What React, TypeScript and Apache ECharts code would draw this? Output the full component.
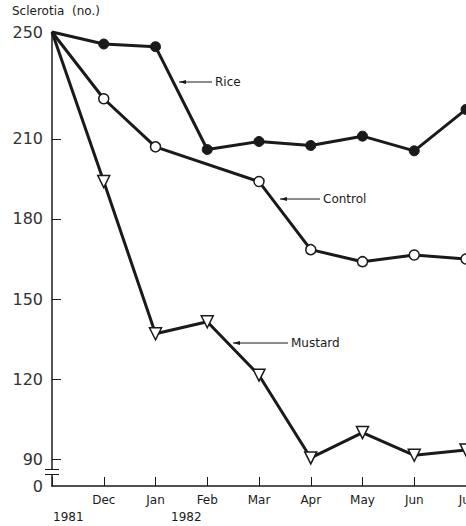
import React, { useEffect, useRef } from "react";
import * as echarts from "echarts";

const months = ["Nov", "Dec", "Jan", "Feb", "Mar", "Apr", "May", "Jun", "Jul"];
const rice = [250, 245.5, 244.5, 206, 209, 207.5, 211, 205.5, 221];
const control = [250, 225, 207, null, 194, 168.5, 164, 166.5, 165];
const mustard = [250, 194, 137, 141.5, 121.5, 90.5, 100, 91.5, 93.5];
const yLabelValues = [80, 90, 120, 150, 180, 210, 250];
const yTickValues = [90, 120, 150, 180, 210];

const FONT = "DejaVu Sans";
const INK = "#1a1a1a";

function toData(vals: (number | null)[]) {
  return vals.map((v, i) =>
    i === 0 ? { value: [i, v], symbol: "none" } : { value: [i, v] }
  );
}

function arrowLabel(x1: number, x2: number, y: number, text: string) {
  return [
    { type: "line", shape: { x1, y1: y, x2, y2: y }, style: { stroke: INK, lineWidth: 1 } },
    {
      type: "polygon",
      shape: { points: [[x1, y], [x1 + 7, y - 2], [x1 + 7, y + 2]] },
      style: { fill: INK },
    },
    {
      type: "text",
      x: x2 + 3,
      y,
      style: { text, font: `12px "${FONT}"`, fill: INK, textVerticalAlign: "middle", textBaseline: "middle" },
    },
  ];
}

export default function App() {
  const ref = useRef<HTMLDivElement>(null);
  useEffect(() => {
    if (!ref.current) return;
    const chart = echarts.init(ref.current, null, { renderer: "svg" });
    const lineStyle = { color: INK, width: 3 };
    chart.setOption({
      animation: false,
      backgroundColor: "#fff",
      grid: { left: 52, right: 0, top: 32, bottom: 40, containLabel: false, outerBoundsMode: "none" },
      xAxis: {
        type: "value",
        min: 0,
        max: 8,
        interval: 1,
        axisLine: { lineStyle: { color: INK, width: 1.5 } },
        axisTick: { inside: true, length: 9, lineStyle: { color: INK, width: 1 } },
        splitLine: { show: false },
        axisLabel: {
          showMaxLabel: true,
          hideOverlap: false,
          margin: 8,
          color: INK,
          fontFamily: FONT,
          fontSize: 12,
          formatter: (v: number) => (v === 0 ? "" : months[v] ?? ""),
        },
      },
      yAxis: {
        type: "value",
        min: 80,
        max: 250,
        axisLine: { show: true, lineStyle: { color: INK, width: 1.5 } },
        axisTick: { show: true, inside: true, length: 9, customValues: yTickValues, lineStyle: { color: INK } },
        splitLine: { show: false },
        axisLabel: {
          customValues: yLabelValues,
          margin: 9,
          color: "#333",
          fontFamily: FONT,
          fontSize: 16,
          formatter: (v: number) => (v === 80 ? "0" : String(v)),
        },
      },
      series: [
        {
          name: "Rice",
          type: "line",
          data: toData(rice),
          symbol: "circle",
          symbolSize: 10,
          clip: false,
          itemStyle: { color: INK, borderColor: INK },
          lineStyle,
        },
        {
          name: "Control",
          type: "line",
          data: toData(control),
          connectNulls: true,
          symbol: "circle",
          symbolSize: 10,
          clip: false,
          itemStyle: { color: "#fff", borderColor: INK, borderWidth: 1.5 },
          lineStyle,
        },
        {
          name: "Mustard",
          type: "line",
          data: toData(mustard),
          symbol: "triangle",
          symbolRotate: 180,
          symbolSize: 12,
          clip: false,
          itemStyle: { color: "#fff", borderColor: INK, borderWidth: 1.5 },
          lineStyle,
        },
      ],
      graphic: [
        {
          type: "text",
          x: 12,
          y: 5,
          style: { text: "Sclerotia  (no.)", font: `12px "${FONT}"`, fill: INK },
        },
        {
          type: "text",
          x: 53,
          y: 511,
          style: { text: "1981", font: `12px "${FONT}"`, fill: INK },
        },
        {
          type: "text",
          x: 171,
          y: 511,
          style: { text: "1982", font: `12px "${FONT}"`, fill: INK },
        },
        { type: "rect", shape: { x: 48, y: 470, width: 8, height: 4 }, style: { fill: "#fff" }, z: 100 },
        { type: "line", shape: { x1: 45, y1: 469.5, x2: 59, y2: 469.5 }, style: { stroke: INK, lineWidth: 1 }, z: 101 },
        { type: "line", shape: { x1: 45, y1: 474.5, x2: 59, y2: 474.5 }, style: { stroke: INK, lineWidth: 1 }, z: 101 },
        ...arrowLabel(179, 212, 82, "Rice"),
        ...arrowLabel(280, 320, 199, "Control"),
        ...arrowLabel(233, 288, 343, "Mustard"),
      ],
    });
    return () => chart.dispose();
  }, []);
  return (
    <div
      ref={ref}
      style={{ position: "fixed", left: 0, top: 0, width: 466, height: 526 }}
    />
  );
}
